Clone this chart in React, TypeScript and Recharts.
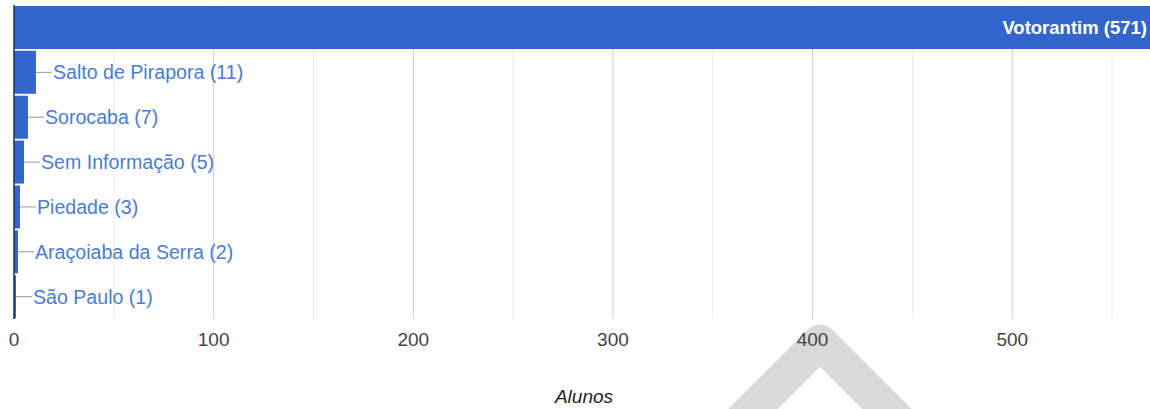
import React from 'react';
import { BarChart, Bar, XAxis, YAxis, ReferenceLine, LabelList, CartesianGrid } from 'recharts';

const cities = ['Votorantim', 'Salto de Pirapora', 'Sorocaba', 'Sem Informação', 'Piedade', 'Araçoiaba da Serra', 'São Paulo'];
const alunos = [571, 11, 7, 5, 3, 2, 1];
const xTicks = [0, 100, 200, 300, 400, 500];
const minorGrid = [50, 150, 250, 350, 450, 550];

const data = cities.map((name, i) => ({ name, value: alunos[i] }));

const FONT = '"Liberation Sans", Arial, sans-serif';
const BAR = '#3366cc';
const DOMAIN: [number, number] = [0, 571];

const BarLabel = (props: any) => {
  const { x, y, width, height, index } = props;
  const text = `${cities[index]} (${alunos[index]})`;
  const cy = y + height / 2;
  if (width > 250) {
    return (
      <text x={x + width - 7} y={cy} dy="0.35em" textAnchor="end" fill="#fff"
        fontFamily={FONT} fontSize={18.5} fontWeight="bold">
        {text}
      </text>
    );
  }
  const end = x + width;
  return (
    <g>
      <line x1={end} y1={cy} x2={end + 16} y2={cy} stroke="#999" strokeWidth={1} />
      <text x={end + 17} y={cy} dy="0.35em" fill="#4a7bd6" fontFamily={FONT} fontSize={19.6}>
        {text}
      </text>
    </g>
  );
};

export default function App() {
  return (
    <div style={{ position: 'absolute', left: 0, top: 0, width: 1150, height: 409, overflow: 'hidden', background: '#fff' }}>
      <svg width={1150} height={409} style={{ position: 'absolute', left: 0, top: 0 }}>
        <polyline points="720,442 820,342 920,442" fill="none" stroke="#d9d9d9"
          strokeWidth={35} strokeLinejoin="round" strokeLinecap="round" />
      </svg>
      <div style={{ position: 'absolute', left: 0, top: 0 }}>
        <BarChart width={1154} height={409} data={data} layout="vertical"
          margin={{ top: 5, right: 0, bottom: 0, left: 14 }} barCategoryGap={2}>
          <CartesianGrid xAxisId="minor" horizontal={false} stroke="#ebebeb" />
          <CartesianGrid horizontal={false} stroke="#cccccc" />
          <XAxis xAxisId="minor" type="number" domain={DOMAIN} ticks={minorGrid} hide allowDataOverflow />
          <XAxis type="number" domain={DOMAIN} ticks={xTicks} axisLine={false} tickLine={false}
            tickMargin={7.5} height={90} allowDataOverflow
            tick={{ fill: '#444', fontSize: 19, fontFamily: FONT }}
            label={{ value: 'Alunos', position: 'insideBottom', offset: 6, fill: '#222', fontSize: 19, fontStyle: 'italic', fontFamily: FONT }} />
          <YAxis type="category" dataKey="name" hide width={0} />
          <Bar dataKey="value" fill={BAR} barSize={43} isAnimationActive={false}>
            <LabelList dataKey="value" content={<BarLabel />} />
          </Bar>
          <ReferenceLine x={0} stroke="#333" strokeWidth={1.5} />
        </BarChart>
      </div>
    </div>
  );
}
